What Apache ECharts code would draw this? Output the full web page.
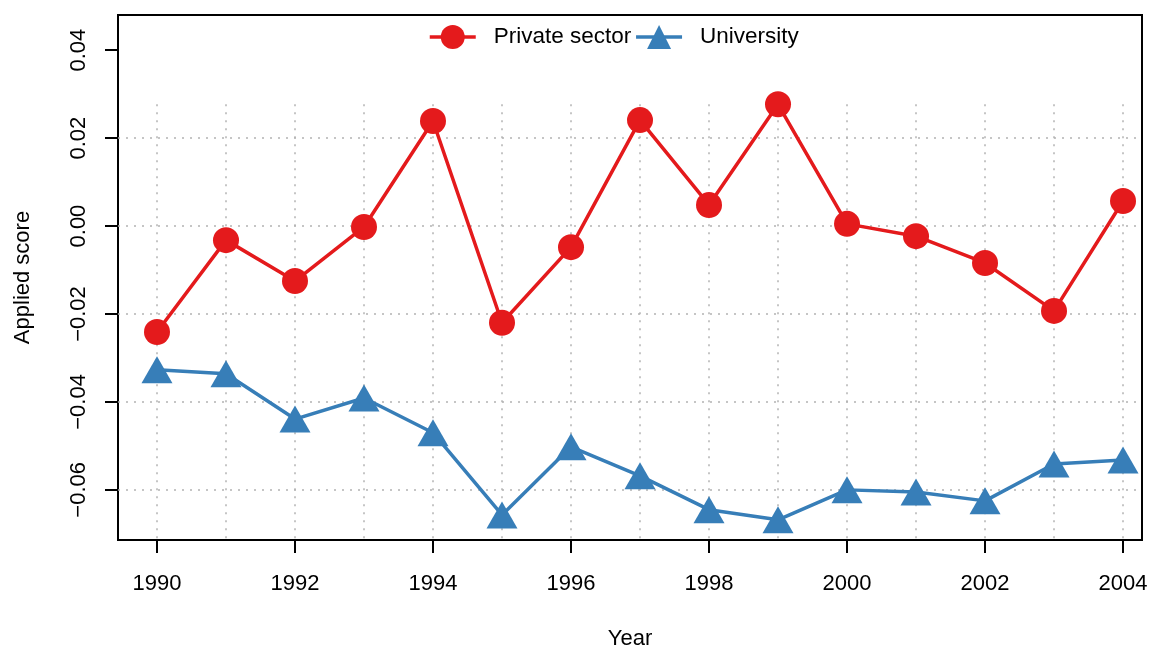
<!DOCTYPE html>
<html>
<head>
<meta charset="utf-8">
<script src="https://cdn.jsdelivr.net/npm/echarts@6/dist/echarts.min.js"></script>
<style>
  html, body { margin: 0; padding: 0; background: #fff; }
  #chart { width: 1152px; height: 648px; }
</style>
</head>
<body>
<div id="chart"></div>
<script>
// data
var years = [1990, 1991, 1992, 1993, 1994, 1995, 1996, 1997, 1998, 1999, 2000, 2001, 2002, 2003, 2004];
var privateSector = [-0.0241, -0.0032, -0.0125, -0.0002, 0.0239, -0.0220, -0.0048, 0.0241, 0.0048, 0.0277, 0.0005, -0.0023, -0.0084, -0.0193, 0.0057];
var university = [-0.0327, -0.0336, -0.0439, -0.0391, -0.0470, -0.0657, -0.0502, -0.0568, -0.0645, -0.0668, -0.0600, -0.0605, -0.0625, -0.0541, -0.0532];
var xTicks = [1990, 1992, 1994, 1996, 1998, 2000, 2002, 2004];
var yTicks = [-0.06, -0.04, -0.02, 0.00, 0.02, 0.04];

var xMin = 1989.435, xMax = 2004.275;
var yMin = -0.0714, yMax = 0.048;

var allVals = privateSector.concat(university);
var dataTop = Math.max.apply(null, allVals);
var dataBottom = Math.min.apply(null, allVals);

function pairs(vals) {
  return years.map(function (y, i) { return [y, vals[i]]; });
}

// dotted grid: verticals from the data max down, horizontals at ticks inside the data range
var gridLines = [];
years.forEach(function (y) {
  gridLines.push([{ coord: [y, dataTop] }, { coord: [y, yMin] }]);
});
yTicks.forEach(function (v) {
  if (v >= dataBottom && v <= dataTop) gridLines.push({ yAxis: v });
});

var chart = echarts.init(document.getElementById('chart'));
var font = 'Liberation Sans, Arial, sans-serif';

chart.setOption({
  animation: false,
  grid: {
    left: 118, right: 10, top: 15, bottom: 108,
    outerBoundsMode: 'none', containLabel: false,
    show: true, borderColor: '#000', borderWidth: 2, backgroundColor: 'transparent'
  },
  legend: {
    top: 20, left: 423,
    itemWidth: 46, itemHeight: 30, itemGap: 3,
    lineStyle: { width: 3.5 },
    textStyle: { fontFamily: font, fontSize: 22.5, color: '#000', padding: [0, 0, 0, 13] },
    data: ['Private sector', 'University']
  },
  xAxis: {
    type: 'value', min: xMin, max: xMax,
    name: 'Year', nameLocation: 'middle', nameGap: 88,
    nameTextStyle: { fontFamily: font, fontSize: 22, color: '#000' },
    axisLine: { show: false, onZero: false },
    axisTick: { show: true, length: 13, lineStyle: { color: '#000', width: 2 }, customValues: xTicks },
    axisLabel: {
      fontFamily: font, fontSize: 22, color: '#000', margin: 33, customValues: xTicks,
      formatter: function (v) { return String(v); }
    },
    splitLine: { show: false }
  },
  yAxis: {
    type: 'value', min: yMin, max: yMax,
    name: 'Applied score', nameLocation: 'middle', nameGap: 84,
    nameTextStyle: { fontFamily: font, fontSize: 22, color: '#000' },
    axisLine: { show: false, onZero: false },
    axisTick: { show: true, length: 13, lineStyle: { color: '#000', width: 2 }, customValues: yTicks },
    axisLabel: {
      fontFamily: font, fontSize: 22, color: '#000', margin: 28, rotate: 90,
      customValues: yTicks,
      formatter: function (v) { return v.toFixed(2).replace('-', '\u2212'); }
    },
    splitLine: { show: false }
  },
  series: [
    {
      name: 'grid', type: 'line', data: [], silent: true, z: 1,
      markLine: {
        silent: true, symbol: 'none', animation: false, z: 1,
        label: { show: false },
        lineStyle: { color: '#b3b3b3', width: 1.5, type: [2, 6] },
        data: gridLines
      }
    },
    {
      name: 'Private sector', type: 'line', data: pairs(privateSector), z: 3,
      symbol: 'circle', symbolSize: 26,
      lineStyle: { color: '#E41A1C', width: 3.5 },
      itemStyle: { color: '#E41A1C' }
    },
    {
      name: 'University', type: 'line', data: pairs(university), z: 3,
      symbol: 'triangle', symbolSize: [31, 27],
      lineStyle: { color: '#377EB8', width: 3.5 },
      itemStyle: { color: '#377EB8' }
    }
  ]
});
</script>
</body>
</html>
